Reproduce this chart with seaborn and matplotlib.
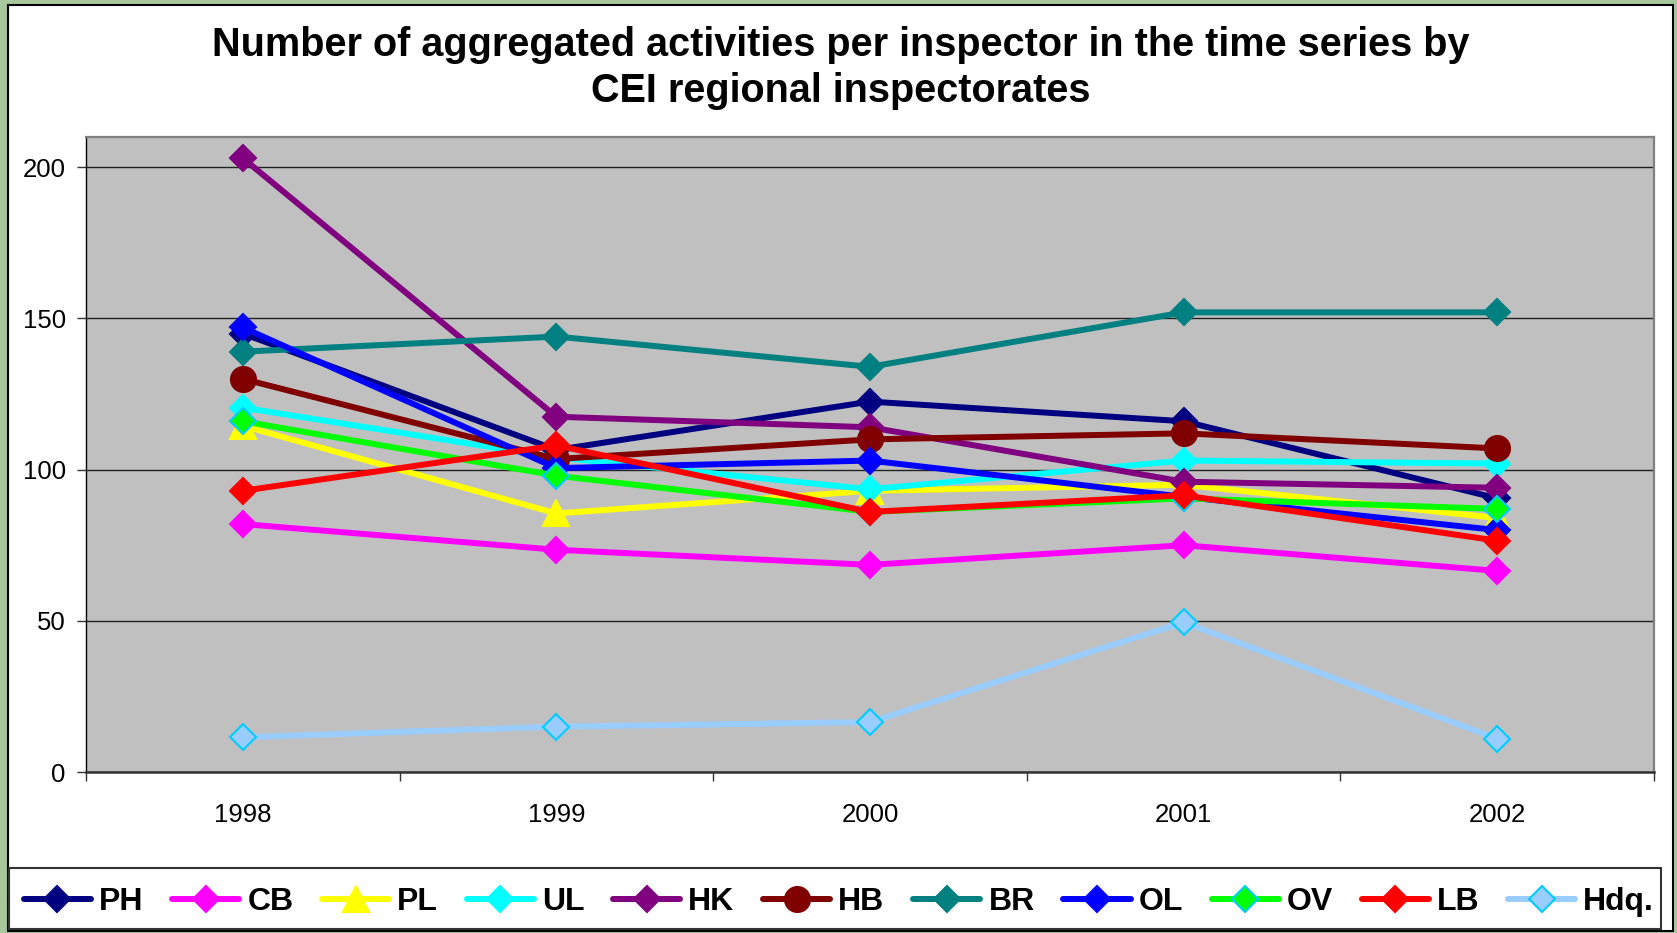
import numpy as np
import seaborn as sns
import matplotlib.pyplot as plt
from matplotlib.patches import Rectangle

# values
years = ['1998', '1999', '2000', '2001', '2002']
series_names = ['PH', 'CB', 'PL', 'UL', 'HK', 'HB', 'BR', 'OL', 'OV', 'LB', 'Hdq.']
ph = [145, 106.5, 122.5, 116, 90.5]
cb = [82, 73.5, 68.5, 75, 66.5]
pl = [114.5, 85.5, 93, 95, 84]
ul = [120.5, 104, 93.5, 103, 102]
hk = [203, 117.5, 114, 96, 94]
hb = [130, 103.5, 110, 112, 107]
br = [139, 144, 134, 152, 152]
ol = [147, 100.5, 103, 91, 80]
ov = [116, 98, 86, 90.5, 87]
lb = [93, 108, 86, 91.5, 76.5]
hdq = [11.5, 15, 16.5, 49.5, 11]

series_values = [ph, cb, pl, ul, hk, hb, br, ol, ov, lb, hdq]
line_colors = ['#000080', '#FF00FF', '#FFFF00', '#00FFFF', '#800080', '#800000',
               '#008080', '#0000FF', '#00FF00', '#FF0000', '#99CCFF']
edge_colors = ['#000080', '#FF00FF', '#FFFF00', '#00FFFF', '#800080', '#800000',
               '#008080', '#0000FF', '#00CCFF', '#FF0000', '#00CCFF']
markers = ['D', 'D', '^', 'D', 'D', 'o', 'D', 'D', 'D', 'D', 'D']
marker_sizes = [13.5, 13.5, 19, 13.5, 13.5, 18, 13.5, 13.5, 13.5, 13.5, 13.5]

W, H = 1677, 933

sns.set_style('white')
plt.rcParams['font.family'] = ['Liberation Sans', 'DejaVu Sans']
plt.rcParams['text.color'] = 'black'
plt.rcParams['xtick.color'] = 'black'
plt.rcParams['ytick.color'] = 'black'

fig = plt.figure(figsize=(W / 100, H / 100), dpi=100, facecolor='#a8c79c')

# white chart area with black frame
fig.patches.append(Rectangle((8 / W, 2 / H), (1673 - 8) / W, (928 - 2) / H,
                             transform=fig.transFigure, facecolor='white',
                             edgecolor='black', linewidth=1.5, zorder=-1))

ax = fig.add_axes([86 / W, (H - 772) / H, (1654 - 86) / W, (772 - 137) / H])
ax.set_facecolor('#C0C0C0')

x = np.arange(len(years))
for name, vals, lc, ec, mk, ms in zip(series_names, series_values, line_colors,
                                      edge_colors, markers, marker_sizes):
    sns.lineplot(x=x, y=vals, ax=ax, color=lc, linewidth=4.3, marker=mk,
                 markersize=ms, markerfacecolor=lc, markeredgecolor=ec,
                 markeredgewidth=1.5, label=name, legend=False)

ax.set_xlim(-0.5, len(years) - 0.5)
ax.set_ylim(0, 210)
ax.set_yticks([0, 50, 100, 150, 200])
ax.set_xticks(x)
ax.set_xticklabels(years)
ax.set_xticks(np.arange(len(years) + 1) - 0.5, minor=True)
ax.yaxis.grid(True, color='#222222', linewidth=1)
ax.set_axisbelow(True)
ax.tick_params(axis='y', direction='out', length=6.5, width=1, color='#333333',
               labelcolor='black', labelsize=18.5, pad=8, left=True)
ax.tick_params(axis='x', which='major', length=0, labelsize=18.5, pad=22.5,
               labelcolor='black')
ax.tick_params(axis='x', which='minor', direction='out', length=6.5, width=1,
               color='#333333', bottom=True)

ax.spines['left'].set_color('black')
ax.spines['left'].set_linewidth(1)
ax.spines['bottom'].set_color('#333333')
ax.spines['bottom'].set_linewidth(1.8)
for s in ['top', 'right']:
    ax.spines[s].set_color('#808080')
    ax.spines[s].set_linewidth(1.6)

fig.text(0.5015, 1 - 68 / H,
         'Number of aggregated activities per inspector in the time series by\n'
         'CEI regional inspectorates',
         ha='center', va='center', fontsize=28.5, fontweight='bold',
         linespacing=1.24, color='black')

# legend box
fig.patches.append(Rectangle((9 / W, (H - 929) / H), (1661 - 9) / W, 61 / H,
                             transform=fig.transFigure, facecolor='none',
                             edgecolor='#333333', linewidth=1.5))
handles, labels = ax.get_legend_handles_labels()
leg = fig.legend(handles, labels, loc='center', bbox_to_anchor=(0.5003, 1 - 902 / H),
                 ncol=len(series_names), frameon=False, handlelength=2.1,
                 handletextpad=0.25, columnspacing=0.9,
                 prop={'weight': 'bold', 'size': 23})
for t in leg.get_texts():
    t.set_color('black')

fig.savefig('out.png', dpi=100, facecolor=fig.get_facecolor())
